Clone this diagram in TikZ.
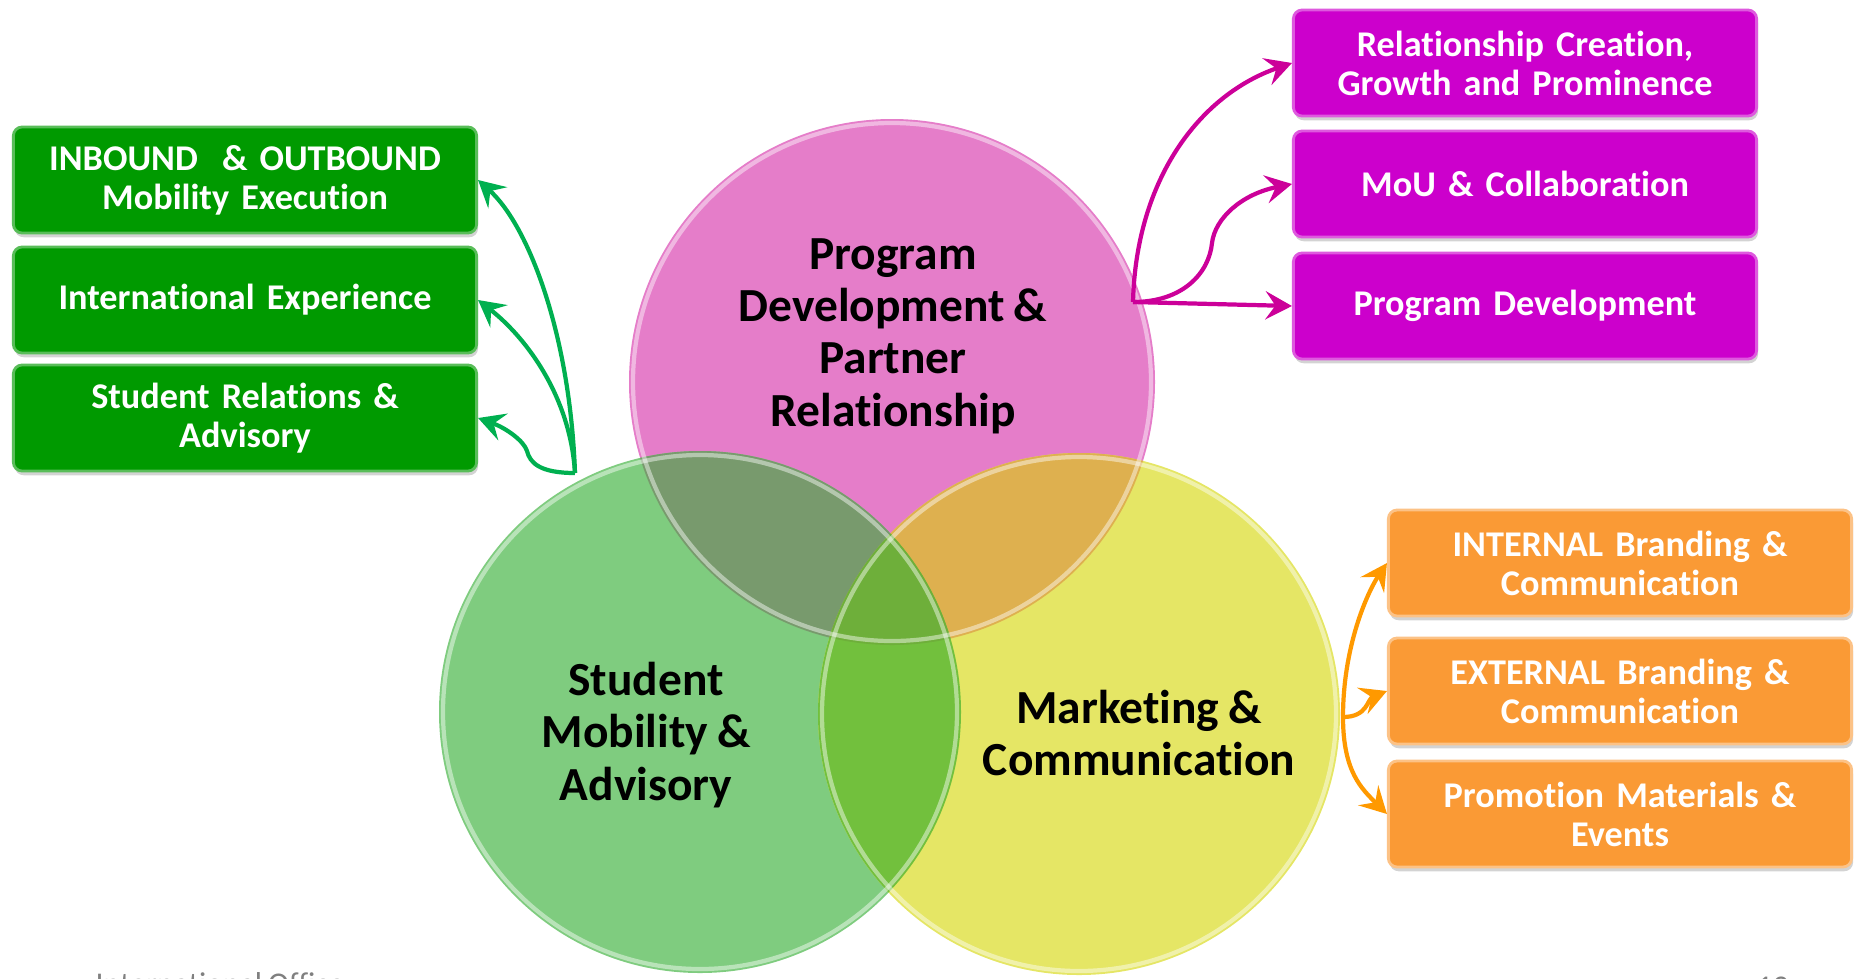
\documentclass[tikz,border=0pt]{standalone}
\usepackage{fontspec}
\setmainfont{Carlito}[Ligatures={NoCommon},WordSpace=0.85]
\usetikzlibrary{arrows.meta,shadows}
\definecolor{pinkc}{HTML}{E57DC9}
\definecolor{greenc}{HTML}{7FCC7F}
\definecolor{yellowc}{HTML}{E5E665}
\definecolor{pgmix}{HTML}{789A6D}
\definecolor{pymix}{HTML}{DEB04F}
\definecolor{gymix}{HTML}{72C03D}
\definecolor{allmix}{HTML}{6EAF3A}
\definecolor{gbox}{HTML}{009A00}
\definecolor{pbox}{HTML}{CC00CC}
\definecolor{obox}{HTML}{FA9A35}
\definecolor{garrow}{HTML}{00B050}
\definecolor{parrow}{HTML}{CC0099}
\definecolor{oarrow}{HTML}{FF9900}

\begin{document}
\begin{tikzpicture}
  [x=0.01cm,y=-0.01cm,
    box/.style={rounded corners=2.5pt, line width=0.8pt,
      minimum width=4.63cm, minimum height=1.06cm, text width=4.3cm,
      align=center, text=white, font=\fontsize{10.3}{11.1}\selectfont\bfseries,
      drop shadow={shadow xshift=0.4pt, shadow yshift=-1.2pt, opacity=0.35}},
    gbox/.style={box, fill=gbox, draw=gbox!65!white},
    pbox/.style={box, fill=pbox, draw=pbox!65!white},
    obox/.style={box, fill=obox, draw=obox!60!white},
    lbl/.style={align=center, font=\fontsize{13.5}{14.9}\selectfont\bfseries},
    rim/.style={white, opacity=0.45, line width=1.2pt},
    link/.style={line width=1.2pt, -{Stealth[length=7.5pt,width=8pt,inset=2.8pt]}},
    footer/.style={text=black!50, font=\fontsize{9}{10.8}\selectfont, inner sep=0pt}]
  \useasboundingbox (0,0) rectangle (1860,978);
  \coordinate (pc) at (892,382);
  \coordinate (gc) at (700,712);
  \coordinate (yc) at (1079,714);
  \fill[pinkc] (pc) circle[radius=263];
  \fill[greenc] (gc) circle[radius=261];
  \fill[yellowc] (yc) circle[radius=261];
  \begin{scope}
    \clip (pc) circle[radius=263];
    \fill[pgmix] (gc) circle[radius=261];
    \fill[pymix] (yc) circle[radius=261];
  \end{scope}
  \begin{scope}
    \clip (gc) circle[radius=261];
    \fill[gymix] (yc) circle[radius=261];
    \clip (pc) circle[radius=263];
    \fill[allmix] (yc) circle[radius=261];
  \end{scope}
  \draw[rim] (pc) circle[radius=259];
  \draw[rim] (gc) circle[radius=257];
  \draw[rim] (yc) circle[radius=257];

  \node[lbl] (progtxt) at (893,336) {Program\\Development \&\\Partner\\Relationship};
  \node[lbl] (mobtxt) at (646,735) {Student\\Mobility \&\\Advisory};
  \node[lbl] (mkttxt) at (1139,733) {Marketing \&\\Communication};

  \node[gbox] (inout) at (245,180) {INBOUND~~\& OUTBOUND\\Mobility Execution};
  \node[gbox] (intexp) at (245,300) {International Experience};
  \node[gbox] (stuadv) at (245,418) {Student Relations \&\\Advisory};
  \node[pbox] (relgrow) at (1525,63) {Relationship Creation,\\Growth and Prominence};
  \node[pbox] (mou) at (1525,184) {MoU \& Collaboration};
  \node[pbox] (progdev) at (1525,306) {Program Development};
  \node[obox] (intbrand) at (1620,563) {INTERNAL Branding \&\\Communication};
  \node[obox] (extbrand) at (1620,691) {EXTERNAL Branding \&\\Communication};
  \node[obox] (promo) at (1620,814) {Promotion Materials \&\\Events};

  \coordinate (mobfork) at (575,473);
  \coordinate (progfork) at (1133,302);
  \coordinate (mktfork) at (1343,717);
  \draw[link, garrow] (mobfork) .. controls +(-5,-140) and +(50,45) .. (inout.east);
  \draw[link, garrow] (mobfork) .. controls +(-5,-80) and +(45,35) .. (intexp.east);
  \draw[link, garrow] (mobfork) .. controls +(-35,0) and +(3,12) .. (527,451)
    .. controls +(-3,-10) and +(28,10) .. (stuadv.east);
  \draw[link, parrow] (progfork) .. controls +(3,-122) and +(-93,32) .. (relgrow.west);
  \draw[link, parrow] (progfork) .. controls +(50,0) and +(-3,30) .. (1212,243)
    .. controls +(3,-25) and +(-50,10) .. (mou.west);
  \draw[link, parrow] (progfork) -- (progdev.west);
  \draw[link, oarrow] (mktfork) .. controls +(0,-70) and +(-20,30) .. (intbrand.west);
  \draw[link, oarrow] (mktfork) .. controls +(25,0) and +(-20,8) .. (extbrand.west);
  \draw[link, oarrow] (mktfork) .. controls +(0,55) and +(-25,-25) .. (promo.west);

  \begin{scope}
    \clip (0,0) rectangle (1860,978);
    \node[footer, anchor=base west] (office) at (95,994) {International Office};
    \node[footer, anchor=base west] (pageno) at (1756,997) {12};
  \end{scope}
\end{tikzpicture}
\end{document}
